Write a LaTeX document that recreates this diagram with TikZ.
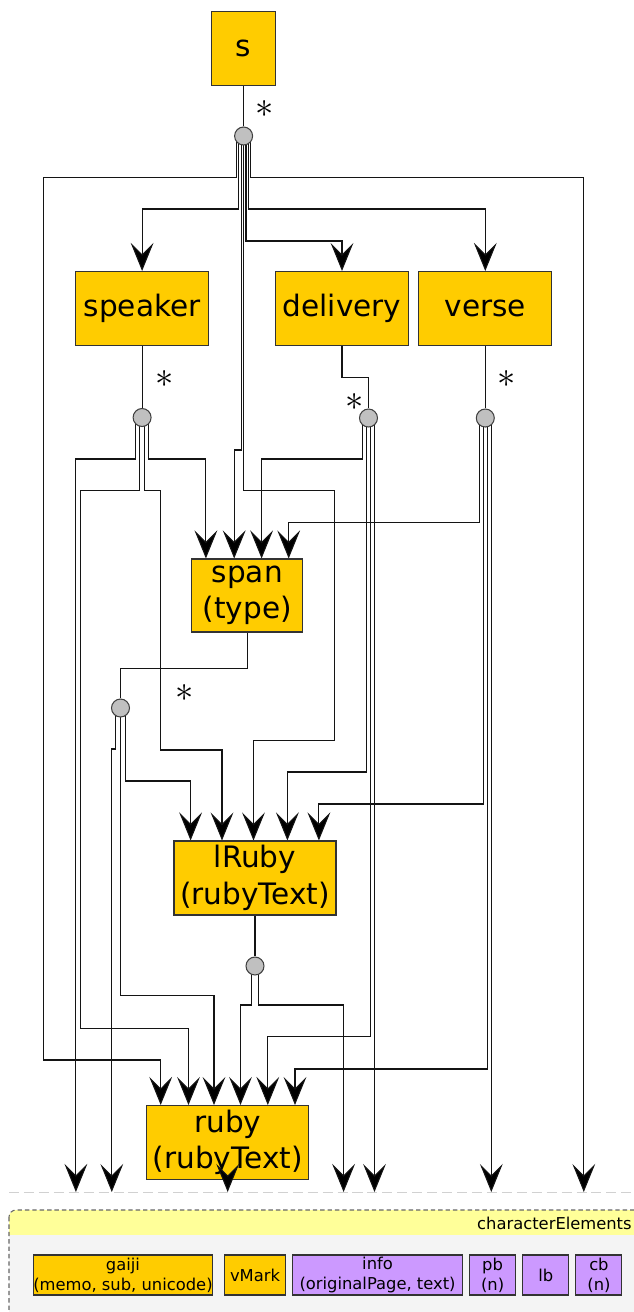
\documentclass[tikz,border=0pt]{standalone}
\usepackage{fontspec}
\setmainfont{DejaVu Sans}
\usetikzlibrary{arrows.meta, positioning, backgrounds}

\definecolor{elemfill}{RGB}{255,204,0}
\definecolor{attrfill}{RGB}{204,153,255}
\definecolor{grouphead}{RGB}{255,255,153}
\definecolor{groupback}{RGB}{244,244,244}
\definecolor{hubfill}{RGB}{192,192,192}
\definecolor{wire}{RGB}{20,20,20}

\newcommand{\bigtext}{\fontsize{16.8}{20.8}\selectfont}
\newcommand{\smalltext}{\fontsize{9.3}{11.3}\selectfont}

\begin{document}
\begin{tikzpicture}[x=0.02cm, y=-0.02cm,
  elem/.style={rectangle, draw=black!80, fill=elemfill, line width=0.6pt,
               align=center, inner sep=0pt, minimum height=1.48cm, font=\bigtext},
  hub/.style={circle, draw=black!75, fill=hubfill, line width=0.6pt,
              minimum size=0.36cm, inner sep=0pt},
  star/.style={inner sep=0pt, font=\fontsize{21}{21}\selectfont},
  conn/.style={line width=0.6pt, draw=wire},
  arr/.style={conn, -{Stealth[length=16pt, width=13pt, inset=6.5pt, fill=black]}},
  charbox/.style={rectangle, draw=black!80, fill=elemfill, line width=0.6pt,
                  align=center, inner sep=0pt, minimum height=0.8cm, font=\smalltext},
  attrbox/.style={charbox, fill=attrfill},
  groupline/.style={draw=black!60, line width=0.6pt, dash pattern=on 2.5pt off 1.7pt},
  sepline/.style={draw=black!18, line width=0.8pt, dash pattern=on 5.7pt off 2.8pt},
]
\useasboundingbox (0,0) rectangle (633,1312);

%% ELEMENTS
\node[elem, minimum width=1.28cm] (s)        at (243.6,48.3)  {s};
\node[elem, minimum width=2.66cm] (speaker)  at (142.1,308.5) {speaker};
\node[elem, minimum width=2.66cm] (delivery) at (342,308.5)   {delivery};
\node[elem, minimum width=2.66cm] (verse)    at (485.3,308.5) {verse};
\node[elem, minimum width=2.22cm, minimum height=1.46cm] (span) at (247.3,595.5) {span\\(type)};
\node[elem, minimum width=3.24cm] (lRuby) at (255,878)    {lRuby\\(rubyText)};
\node[elem, minimum width=3.25cm] (ruby)  at (227.7,1142.5) {ruby\\(rubyText)};

%% HUBS
\node[hub] (cS)    at (243.6,136) {};
\node[hub] (cSpk)  at (142.1,417.5) {};
\node[hub] (cDel)  at (368.5,418) {};
\node[hub] (cVer)  at (485.3,418) {};
\node[hub] (cSpan) at (120.5,708) {};
\node[hub] (cLR)   at (255,966) {};

\node[star] (mS)    at (265,109)     {$\ast$};
\node[star] (mSpk)  at (165,379)     {$\ast$};
\node[star] (mDel)  at (355,402)     {$\ast$};
\node[star] (mVer)  at (507,379)     {$\ast$};
\node[star] (mSpan) at (184.6,692.7) {$\ast$};

%% CHARACTER ELEMENTS
\coordinate (ceTop) at (0,1192);
\node[anchor=east, font=\smalltext, inner sep=0pt] (grpname) at (632,1223) {characterElements};
\node[charbox, minimum width=3.59cm] (gaiji) at (123,1275) {gaiji\\(memo, sub, unicode)};
\node[charbox, minimum width=1.23cm, right=0.21cm of gaiji] (vMark) {vMark};
\node[attrbox, minimum width=3.39cm, right=0.12cm of vMark] (info) {info\\(originalPage, text)};
\node[attrbox, minimum width=0.93cm, right=0.12cm of info] (pb) {pb\\(n)};
\node[attrbox, minimum width=0.92cm, right=0.12cm of pb] (lb) {lb};
\node[attrbox, minimum width=0.92cm, right=0.12cm of lb] (cb) {cb\\(n)};

\draw[arr] (ruby.south) -- (ruby.south |- ceTop);

\begin{pgfonlayer}{background}
  \draw[sepline] (9,1192.7) -- (660,1192.7);
  \fill[groupback, rounded corners=4pt] (9,1210) rectangle (660,1330);
  \begin{scope}
    \clip[rounded corners=4pt] (9,1210) rectangle (660,1330);
    \fill[grouphead] (9,1210) rectangle (660,1235);
  \end{scope}
  \draw[groupline, rounded corners=4pt] (9,1210) rectangle (660,1330);

  %% ARROWS
  \draw[conn] (s) -- (cS);
  \draw[arr] (cS.center) ++(-7.2,0) |- (43.6,177.5) |- (160.7,1060) -- (160.7,0 |- ruby.north);
  \draw[arr] (cS.center) ++(-4.8,0) |- (142.1,209) -- (speaker.north);
  \draw[arr] (cS.center) ++(-2.4,0) |- (234.2,450) -- (234.2,0 |- span.north);
  \draw[arr] (cS.center) |- (334.3,490.7) |- (253.5,740.7) -- (253.5,0 |- lRuby.north);
  \draw[arr] (cS.center) ++(2.4,0) |- (342,241) -- (delivery.north);
  \draw[arr] (cS.center) ++(4.8,0) |- (485.3,209) -- (verse.north);
  \draw[arr] (cS.center) ++(7.2,0) |- (583.8,177.5) -- (583.8,0 |- ceTop);

  \draw[conn] (speaker) -- (cSpk);
  \draw[arr] (cSpk.center) ++(-6.6,0) |- (75.9,459) -- (75.9,0 |- ceTop);
  \draw[arr] (cSpk.center) ++(-2.2,0) |- (80.7,490.7) |- (188.5,1028.3) -- (188.5,0 |- ruby.north);
  \draw[arr] (cSpk.center) ++(2.2,0) |- (160.3,490.7) |- (222,750) -- (222,0 |- lRuby.north);
  \draw[arr] (cSpk.center) ++(6.6,0) |- (205.9,459) -- (205.9,0 |- span.north);

  \draw[conn] (delivery.south) -- ++(0,31.5) -| (cDel.north);
  \draw[arr] (cDel.center) ++(-6,0) |- (261.6,459) -- (261.6,0 |- span.north);
  \draw[arr] (cDel.center) ++(-2,0) |- (287.4,772) -- (287.4,0 |- lRuby.north);
  \draw[arr] (cDel.center) ++(2,0) |- (267.8,1036.7) -- (267.8,0 |- ruby.north);
  \draw[arr] (cDel.center) ++(6,0) -- (374.5,0 |- ceTop);

  \draw[conn] (verse) -- (cVer);
  \draw[arr] (cVer.center) ++(-6,0) |- (288.7,522.7) -- (288.7,0 |- span.north);
  \draw[arr] (cVer.center) ++(-2,0) |- (318.9,804) -- (318.9,0 |- lRuby.north);
  \draw[arr] (cVer.center) ++(2,0) |- (295,1069) -- (295,0 |- ruby.north);
  \draw[arr] (cVer.center) ++(6,0) -- (491.3,0 |- ceTop);

  \draw[conn] (span.south) -- ++(0,35.7) -| (cSpan.north);
  \draw[arr] (cSpan.center) ++(-5,0) |- (111.8,749) -- (111.8,0 |- ceTop);
  \draw[arr] (cSpan.center) |- (214,995.7) -- (214,0 |- ruby.north);
  \draw[arr] (cSpan.center) ++(5,0) |- (190.6,781) -- (190.6,0 |- lRuby.north);

  \draw[conn] (lRuby) -- (cLR);
  \draw[arr] (cLR.center) ++(-3.2,0) |- (240.5,1005) -- (240.5,0 |- ruby.north);
  \draw[arr] (cLR.center) ++(3.2,0) |- (343.6,1005) -- (343.6,0 |- ceTop);
\end{pgfonlayer}
\end{tikzpicture}
\end{document}
